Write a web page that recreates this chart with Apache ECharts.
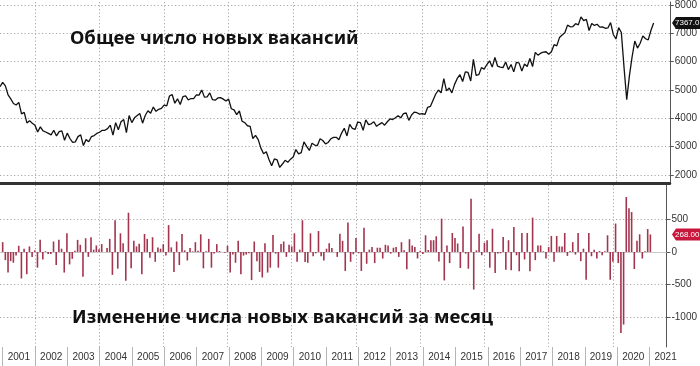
<!DOCTYPE html>
<html><head><meta charset="utf-8">
<script src="https://cdn.jsdelivr.net/npm/echarts@6/dist/echarts.min.js"></script>
<style>html,body{margin:0;padding:0;background:#fff}#c{width:700px;height:366px}</style>
</head><body><div id="c"></div>
<script>
// Monthly job openings (thousands), Nov 2000 .. Feb 2021
const openings = [
5120,5270,5145,4830,4690,4525,4470,4565,4160,4210,3840,3920,
3830,3760,3520,3700,3560,3520,3470,3420,3580,3380,3530,3560,
3230,3480,3290,3150,3170,3355,3420,3040,3250,3175,3360,3395,
3470,3510,3580,3580,3640,3760,3410,3850,3600,3880,3960,3500,
4100,3850,4020,4100,4170,3830,4100,4270,4180,4400,4250,4320,
4350,4470,4440,4790,4840,4535,4690,4490,4765,4790,4650,4700,
4700,4830,4820,5000,4750,4760,4900,4660,4640,4720,4730,4680,
4610,4680,4340,4300,4130,4260,3900,3850,3740,3720,3290,3400,
3250,2950,2750,2820,2550,2330,2570,2540,2270,2390,2520,2450,
2560,2640,2900,2750,2790,3170,3010,2870,3120,3060,3040,3280,
3220,3100,3150,3280,3330,3330,3250,3480,3650,3380,3790,3650,
3610,3870,3850,3580,3950,3780,3810,3880,3720,3790,3850,3760,
3880,3980,3960,4020,4090,4020,4170,4190,3930,4120,4220,4200,
4150,4170,4140,4390,4420,4640,4860,5000,4900,5400,4970,5070,
4900,5200,5410,5540,5300,5640,5620,5320,6080,5520,5540,5790,
5740,5900,6030,5810,6150,5840,5810,5790,5990,5720,5900,5640,
5980,5950,5670,5920,5830,6110,5830,6330,6230,6300,6340,6350,
6260,6350,6600,6560,6850,6940,7020,7290,7230,7240,7340,7300,
7580,7450,7490,7100,7350,7280,7320,7220,7230,7180,7190,7380,
6960,6800,7200,7030,5800,4660,5500,6170,6730,6480,6650,6910,
6810,6770,7099,7367
];
// Monthly change (thousands), aligned with openings (first month has none)
const change = [null,
150,-125,-315,-140,-165,-55,95,-405,50,-340,85,-75,
25,-240,185,-115,10,-30,-30,160,-200,185,50,-315,
285,-190,-105,20,185,110,-380,210,-75,225,35,100,
40,120,0,60,200,-350,485,-255,285,135,-440,600,
-250,170,85,125,-340,275,200,-90,225,-150,70,50,
120,-55,410,70,-305,160,-200,275,25,-130,60,10,
150,20,270,-250,10,200,-240,-25,120,15,0,-10,
95,-315,-40,-165,170,-340,-55,-40,-20,-430,160,-140,
-305,-390,135,-315,-240,260,-25,-240,120,160,-75,110,
85,285,-150,35,485,-155,-165,285,-65,-20,320,-65,
-130,50,135,60,0,-75,280,170,-290,450,-150,-35,
215,-20,-290,370,-180,35,75,-170,65,65,-100,110,
100,-25,65,75,-75,150,25,-265,195,100,75,-100,
20,-30,255,30,180,180,240,-145,510,-435,100,-170,
290,215,130,-245,390,-25,-255,815,-575,25,280,-50,
140,180,-240,355,-320,-25,-20,230,-270,180,-280,380,
-50,-295,290,-115,290,-295,525,-125,100,100,10,-100,
75,245,-150,245,85,85,290,-60,15,150,-40,290,
-140,50,-425,290,-65,35,-100,15,-50,10,255,-425,
-150,435,-170,-1240,-1110,840,670,610,-260,170,270,-100,
10,350,268
];
const topTicks = [2000,3000,4000,5000,6000,7000,8000];
const bottomTicks = [-1000,-500,0,500];
const titleTop = 'Общее число новых вакансий';
const titleBottom = 'Изменение числа новых вакансий за месяц';

// month categories Nov 2000 .. Aug 2021 (month-end positions)
const months = [];
for (let y = 2000, m = 11; !(y === 2021 && m === 9);) {
  months.push(y + '-' + String(m).padStart(2, '0'));
  m++; if (m > 12) { m = 1; y++; }
}
const isYearEnd = (i, v) => v.endsWith('-12');
const isMid = (i, v) => v.endsWith('-06');
const isGrid = (i, v) => v.endsWith('-12') && (+v.slice(0, 4)) % 2 === 1;

const dotted = { color: '#a8a8a8', width: 1, type: [1.2, 2.3] };
const axisFont = { color: '#333', fontSize: 10, fontFamily: 'Liberation Sans' };
const plain = v => String(v);

const chart = echarts.init(document.getElementById('c'), null, { renderer: 'canvas' });
chart.setOption({
  animation: false,
  backgroundColor: '#fff',
  grid: [
    { left: 0, right: 29, top: 0, height: 183 },
    { left: 0, right: 29, top: 185, height: 162 },
    { left: 0, right: 29, top: 347, height: 19 }
  ],
  xAxis: [
    { type: 'category', gridIndex: 0, data: months, boundaryGap: false,
      axisLine: { show: true, lineStyle: { color: '#333', width: 3 } },
      axisTick: { show: false }, axisLabel: { show: false },
      splitLine: { show: true, interval: isGrid, lineStyle: dotted } },
    { type: 'category', gridIndex: 1, data: months, boundaryGap: false,
      axisLine: { show: true, lineStyle: { color: '#888', width: 1 } },
      axisTick: { show: false }, axisLabel: { show: false },
      splitLine: { show: true, interval: isGrid, lineStyle: dotted } },
    { type: 'category', gridIndex: 2, data: months, boundaryGap: false,
      axisLine: { show: false },
      axisTick: { show: false },
      axisLabel: Object.assign({ interval: isMid, inside: true, margin: 4, formatter: v => v.slice(0, 4) }, axisFont),
      splitLine: { show: true, interval: isYearEnd, lineStyle: { color: '#b5b5b5', width: 1 } } }
  ],
  yAxis: [
    { type: 'value', gridIndex: 0, position: 'right', min: 1720, max: 8105,
      axisLine: { show: true, lineStyle: { color: '#555' } },
      axisTick: { show: true, customValues: topTicks, length: 4, lineStyle: { color: '#555' } },
      axisLabel: Object.assign({ customValues: topTicks, margin: 5, formatter: plain }, axisFont),
      splitLine: { show: true, lineStyle: dotted } },
    { type: 'value', gridIndex: 1, position: 'right', min: -1453, max: 1024,
      axisLine: { show: true, lineStyle: { color: '#555' } },
      axisTick: { show: true, customValues: bottomTicks, length: 4, lineStyle: { color: '#555' } },
      axisLabel: Object.assign({ customValues: bottomTicks, margin: 5, formatter: plain }, axisFont),
      splitLine: { show: true, lineStyle: dotted } },
    { type: 'value', gridIndex: 2, position: 'right', min: 0, max: 1, show: false }
  ],
  series: [
    { type: 'line', xAxisIndex: 0, yAxisIndex: 0, data: openings, showSymbol: false,
      lineStyle: { color: '#111', width: 1.3 }, z: 3 },
    { type: 'bar', xAxisIndex: 1, yAxisIndex: 1, data: change, barWidth: 1.6,
      itemStyle: { color: '#a3354f' }, z: 3,
      markLine: { silent: true, symbol: 'none', label: { show: false },
        lineStyle: { color: '#c8c8c8', type: 'solid', width: 1 }, data: [{ yAxis: 0 }], z: 1 } }
  ]
});

const lastO = openings[openings.length - 1];
const lastC = change[change.length - 1];
const yO = chart.convertToPixel({ yAxisIndex: 0 }, lastO);
const yC = chart.convertToPixel({ yAxisIndex: 1 }, lastC);
function badge(y, fill, text) {
  return [
    { type: 'polygon', z: 100, shape: { points: [[672, y], [676, y - 6], [700, y - 6], [700, y + 6], [676, y + 6]] },
      style: { fill: fill } },
    { type: 'text', z: 101, x: 675, y: y, style: { text: text, fill: '#fff', fontSize: 8,
      fontFamily: 'Liberation Sans', verticalAlign: 'middle', align: 'left' } }
  ];
}
chart.setOption({
  graphic: [].concat(
    badge(yO, '#111', lastO.toFixed(1)),
    badge(yC, '#c8173c', lastC.toFixed(2)),
    [
      { type: 'text', z: 100, x: 70, y: 39, style: { text: titleTop, fill: '#111',
        font: 'bold 18.5px "Noto Sans"', verticalAlign: 'middle' } },
      { type: 'text', z: 100, x: 72, y: 318, style: { text: titleBottom, fill: '#111',
        font: 'bold 18.5px "Noto Sans"', verticalAlign: 'middle' } }
    ]
  )
});
</script>
</body></html>
